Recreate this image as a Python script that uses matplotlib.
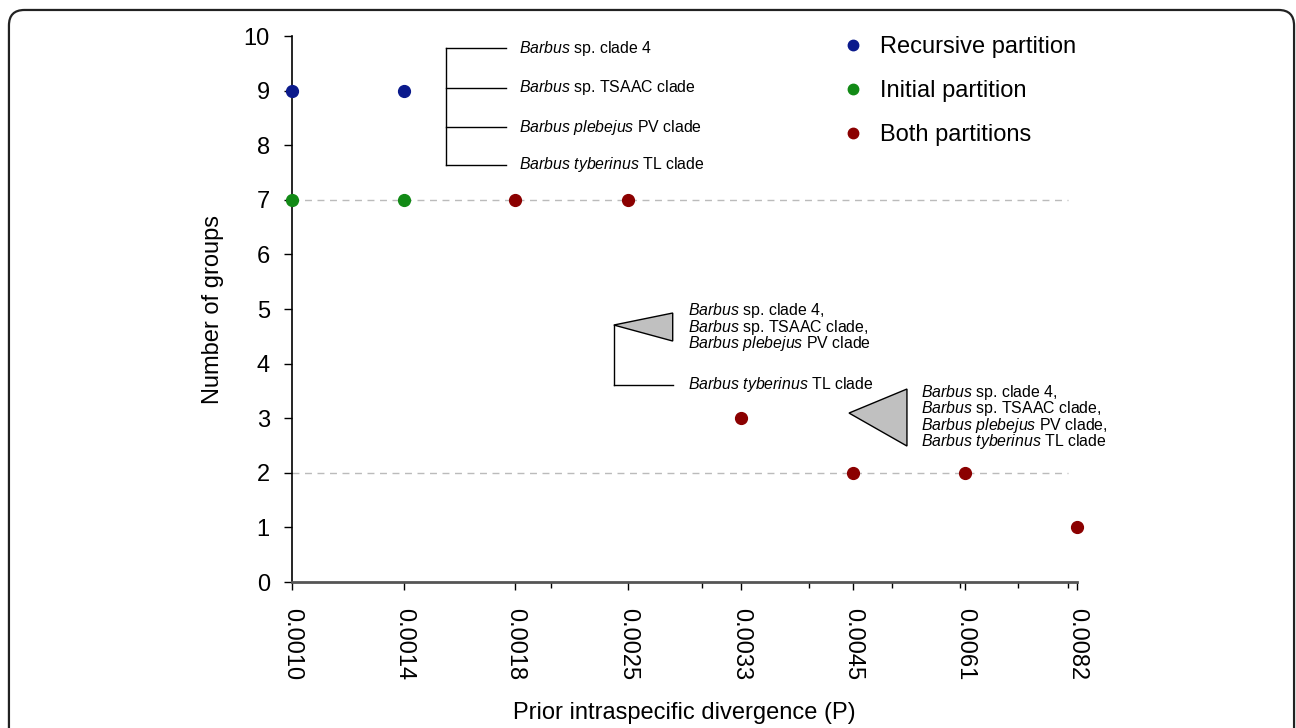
import matplotlib
matplotlib.use("Agg")
import matplotlib.pyplot as plt
from matplotlib.patches import FancyBboxPatch, Polygon
from matplotlib.lines import Line2D
from matplotlib.ticker import FixedLocator, NullFormatter, LogLocator

plt.rcParams["font.family"] = ["Liberation Sans", "DejaVu Sans"]
plt.rcParams["mathtext.fontset"] = "custom"
plt.rcParams["mathtext.rm"] = "Liberation Sans"
plt.rcParams["mathtext.it"] = "Liberation Sans:italic"

# --- dados ---
p_values = [0.00100, 0.00135, 0.00182, 0.00246, 0.00333, 0.00450, 0.00607, 0.00820]
p_labels = ["0.0010", "0.0014", "0.0018", "0.0025", "0.0033", "0.0045", "0.0061", "0.0082"]
recursive_groups = [9, 9, 7, 7, 3, 2, 2, 1]
initial_groups = [7, 7, 7, 7, 3, 2, 2, 1]
guide_levels = [7, 2]

col_rec = "#0b1a8c"
col_ini = "#128a16"
col_both = "#8b0000"

fig = plt.figure(figsize=(12.96, 7.28), dpi=100)
ax = fig.add_axes([0.2253, 0.2005, 0.6057, 0.75])

# moldura arredondada
frame = FancyBboxPatch((0.0069, -0.1), 0.9916, 1.0863, boxstyle="round,pad=0,rounding_size=0.012",
                       transform=fig.transFigure, fill=False, lw=1.6, ec="#222222", mutation_aspect=1.78)
fig.patches.append(frame)

for lv in guide_levels:
    ax.axhline(lv, xmin=0, xmax=0.989, color="#bbbbbb", ls=(0, (5, 4)), lw=1, zorder=1)

# pontos: separar onde as duas partições diferem
both_x = [p for p, r, i in zip(p_values, recursive_groups, initial_groups) if r == i]
both_y = [r for r, i in zip(recursive_groups, initial_groups) if r == i]
rec_x = [p for p, r, i in zip(p_values, recursive_groups, initial_groups) if r != i]
rec_y = [r for r, i in zip(recursive_groups, initial_groups) if r != i]
ini_y = [i for r, i in zip(recursive_groups, initial_groups) if r != i]

ms = 8.5
ax.plot(rec_x, rec_y, "o", color=col_rec, ms=ms, ls="none", clip_on=False, zorder=3)
ax.plot(rec_x, ini_y, "o", color=col_ini, ms=ms, ls="none", clip_on=False, zorder=3)
ax.plot(both_x, both_y, "o", color=col_both, ms=ms, ls="none", clip_on=False, zorder=3)

ax.set_xscale("log")
ax.set_xlim(p_values[0], p_values[-1])
ax.set_ylim(0, 10)
ax.xaxis.set_major_locator(FixedLocator(p_values))
ax.set_xticklabels(p_labels, rotation=270, fontsize=17)
ax.xaxis.set_minor_locator(LogLocator(base=10, subs=range(2, 10)))
ax.xaxis.set_minor_formatter(NullFormatter())
ax.set_yticks(range(0, 11))
ax.tick_params(axis="y", labelsize=17, length=6, width=1, direction="out", pad=10)
ax.tick_params(axis="x", which="major", length=6, width=1, pad=13)
ax.tick_params(axis="x", which="minor", length=4, width=1)
for s in ["top", "right"]:
    ax.spines[s].set_visible(False)
ax.spines["left"].set_linewidth(1.2)
ax.spines["bottom"].set_linewidth(2)
ax.spines["bottom"].set_color("#555555")

ax.set_ylabel("Number of groups", fontsize=17, labelpad=14)
ax.set_xlabel("Prior intraspecific divergence (P)", fontsize=17, labelpad=15)

# legenda
handles = [Line2D([], [], marker="o", ls="none", color=c, ms=7.5) for c in (col_rec, col_ini, col_both)]
ax.legend(handles, ["Recursive partition", "Initial partition", "Both partitions"],
          loc="upper left", bbox_to_anchor=(0.687, 1.017), frameon=False, fontsize=17,
          handlelength=1.0, handletextpad=0.65, labelspacing=0.93, borderaxespad=0)

# árvores / anotações (coordenadas do eixo)
T = ax.transAxes
lk = dict(color="black", lw=1, transform=T, clip_on=False)
tk = dict(fontsize=11.4, transform=T, va="center", ha="left")

tree1_y = [0.978, 0.905, 0.833, 0.764]
tree1_txt = [r"$\it{Barbus}$ sp. clade 4", r"$\it{Barbus}$ sp. TSAAC clade",
             r"$\it{Barbus\ plebejus}$ PV clade", r"$\it{Barbus\ tyberinus}$ TL clade"]
ax.plot([0.196, 0.196], [tree1_y[0], tree1_y[-1]], **lk)
for yy, tt in zip(tree1_y, tree1_txt):
    ax.plot([0.196, 0.273], [yy, yy], **lk)
    ax.text(0.289, yy, tt, **tk)

# árvore 2
ax.plot([0.410, 0.410], [0.4707, 0.3608], **lk)
ax.plot([0.410, 0.485], [0.3608, 0.3608], **lk)
ax.add_patch(Polygon([[0.410, 0.4707], [0.485, 0.4927], [0.485, 0.4414]], closed=True,
                     fc="#c0c0c0", ec="black", lw=1, transform=T, clip_on=False))
ax.text(0.504, 0.4670, r"$\it{Barbus}$ sp. clade 4," "\n" r"$\it{Barbus}$ sp. TSAAC clade," "\n"
        r"$\it{Barbus\ plebejus}$ PV clade", linespacing=0.82, **tk)
ax.text(0.504, 0.3626, r"$\it{Barbus\ tyberinus}$ TL clade", **tk)

# triângulo 3
ax.add_patch(Polygon([[0.7096, 0.3095], [0.7834, 0.3535], [0.7834, 0.2491]], closed=True,
                     fc="#c0c0c0", ec="black", lw=1, transform=T, clip_on=False))
ax.text(0.8013, 0.302, r"$\it{Barbus}$ sp. clade 4," "\n" r"$\it{Barbus}$ sp. TSAAC clade," "\n"
        r"$\it{Barbus\ plebejus}$ PV clade," "\n" r"$\it{Barbus\ tyberinus}$ TL clade",
        linespacing=0.82, **tk)

fig.savefig("out.png", dpi=100)
